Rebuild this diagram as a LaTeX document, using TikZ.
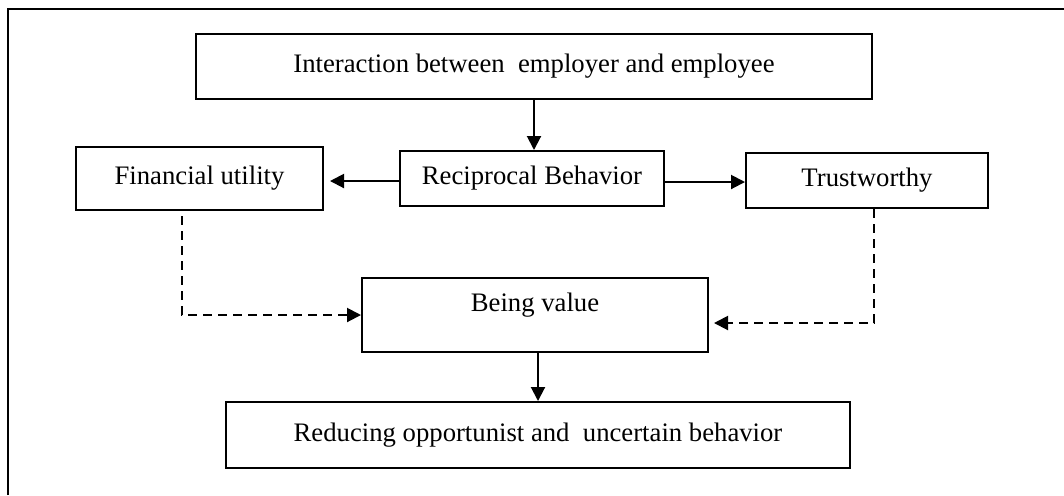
\documentclass[tikz,border=0pt]{standalone}
\usepackage{fontspec}
\setmainfont{Liberation Serif}
\usetikzlibrary{arrows.meta}
\begin{document}
\begin{tikzpicture}[x=0.5pt,y=-0.5pt,
  box/.style={draw,line width=1pt,inner sep=0pt,font=\fontsize{13.35}{16}\selectfont},
  arr/.style={line width=1pt,-{Triangle[length=7pt,width=7pt]}},
  darr/.style={line width=1pt,dash pattern=on 4.5pt off 3pt,-{Triangle[length=7pt,width=7pt]}}]
\useasboundingbox (0,0) rectangle (1064,495);
\draw[line width=1.2pt] (8,495) -- (8,9) -- (1064,9);
\node[box,minimum width=338pt,minimum height=32.5pt] (top) at (534,66.5) {Interaction between\ \ employer and employee};
\node[box,minimum width=123.5pt,minimum height=31.5pt] (fin) at (199.5,178.5) {Financial utility};
\node[box,minimum width=132pt,minimum height=27.5pt] (rec) at (532,178.5) {Reciprocal Behavior};
\node[box,minimum width=121pt,minimum height=27.5pt] (tru) at (867,180.5) {Trustworthy};
\node[box,minimum width=173pt,minimum height=37pt,text height=9pt,text depth=13pt] (bv) at (535,315) {Being value};
\node[box,minimum width=312pt,minimum height=33pt] (red) at (538,435) {Reducing opportunist and\ \ uncertain behavior};
\coordinate (fdown) at (182,315);
\coordinate (tdown) at (874,323);
\draw[arr] (top.south) -- (top.south |- rec.north);
\draw[arr,shorten >=3pt] (rec.west |- 0,181) -- (fin.east |- 0,181);
\draw[arr] (rec.east |- 0,182) -- (tru.west |- 0,182);
\draw[darr] (fin.south -| fdown) ++(0,5) -- (fdown) -- (bv.west |- fdown);
\draw[darr,shorten >=2.5pt] (tru.south -| tdown) -- (tdown) -- (bv.east |- tdown);
\draw[arr] (bv.south -| red.north) -- (red.north);
\end{tikzpicture}
\end{document}
